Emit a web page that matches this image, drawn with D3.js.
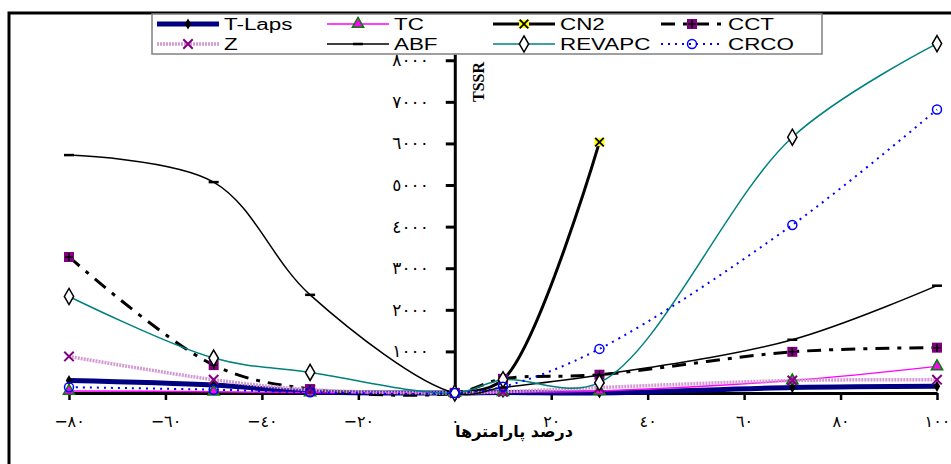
<!DOCTYPE html>
<meta charset="utf-8">
<style>
    body { margin: 0; background: #fff; }
    svg { display: block; }
    .tick text { font-family: "DejaVu Sans", sans-serif; font-size: 16px; fill: #000; }
    .legend text { font-family: "Liberation Sans", Arial, sans-serif; font-size: 16px; fill: #000; }
</style>
<svg width="951" height="464"></svg>
<script src="https://cdn.jsdelivr.net/npm/d3@7"></script>
<script>

    // x positions (percent change of parameters)
    var percents = [-80, -50, -30, 0, 10, 30, 70, 100];

    var tLaps  = [300, 190, 30, 0, 10, 0, 130, 160];
    var tc     = [50, 30, 10, 0, 20, 50, 300, 640];
    var cn2    = [null, null, null, 0, 320, 6030, null, null];
    var cct    = [3270, 670, 95, 0, 340, 440, 990, 1090];
    var zVals  = [880, 320, 80, 0, 30, 130, 300, 320];
    var abf    = [5720, 5070, 2360, 0, 130, 430, 1280, 2580];
    var revapc = [2320, 840, 495, 0, 320, 250, 6150, 8400];
    var crco   = [140, 80, 20, 0, 150, 1060, 4040, 6815];

    var xTicks = [-80, -60, -40, -20, 0, 20, 40, 60, 80, 100];
    var yTicks = [0, 1000, 2000, 3000, 4000, 5000, 6000, 7000, 8000];

    var xTitle = "درصد پارامترها";
    var yTitle = "TSSR";

    var series = [
        {name: "T-Laps", values: tLaps,  color: "#000080", width: 5,   dash: null,        marker: "tlaps"},
        {name: "TC",     values: tc,     color: "#ff00ff", width: 1.5, dash: null,        marker: "tri"},
        {name: "CN2",    values: cn2,    color: "#000000", width: 3,   dash: null,        marker: "cn2"},
        {name: "CCT",    values: cct,    color: "#000000", width: 3,   dash: "14,8,4,8",  marker: "cct"},
        {name: "Z",      values: zVals,  color: "#d49ad4", width: 3.5, dash: "2,1",       marker: "z"},
        {name: "ABF",    values: abf,    color: "#000000", width: 1.5, dash: null,        marker: "abf"},
        {name: "REVAPC", values: revapc, color: "#008080", width: 1.5, dash: null,        marker: "diamond"},
        {name: "CRCO",   values: crco,   color: "#0000ff", width: 2,   dash: "2,5",       marker: "circle"}
    ];

    var svg = d3.select("svg");

    var x = d3.scaleLinear().domain([-80, 100]).range([69, 937]);
    var y = d3.scaleLinear().domain([0, 8150]).range([393, 54]);

    var arabicDigits = "٠١٢٣٤٥٦٧٨٩";
    function toArabic(n) {
        var s = String(Math.abs(n)).replace(/[0-9]/g, function (c) { return arabicDigits[+c]; });
        return (n < 0 ? "−" : "") + s;
    }

    // outer frame (only top and left edges fall inside the picture)
    svg.append("rect")
        .attr("x", 9).attr("y", 13)
        .attr("width", 1000).attr("height", 500)
        .attr("fill", "none")
        .attr("stroke", "#000")
        .attr("stroke-width", 3);

    // axes
    var xAxis = svg.append("g")
        .attr("transform", "translate(0," + y(0) + ")")
        .call(d3.axisBottom(x).tickValues(xTicks).tickSizeInner(7).tickSizeOuter(0).tickFormat(toArabic));
    xAxis.select(".domain").attr("stroke-width", 3);
    xAxis.selectAll(".tick line").attr("stroke-width", 2.5);
    xAxis.selectAll(".tick text").attr("y", 23)
        .style("direction", "ltr").style("unicode-bidi", "bidi-override");

    var yAxis = svg.append("g")
        .attr("transform", "translate(" + x(0) + ",0)")
        .call(d3.axisLeft(y).tickValues(yTicks).tickSizeInner(9).tickSizeOuter(0).tickPadding(17).tickFormat(toArabic));
    yAxis.select(".domain").attr("stroke-width", 3);
    yAxis.selectAll(".tick line").attr("stroke-width", 3);
    yAxis.selectAll(".tick text").style("font-size", "17px")
        .style("direction", "ltr").style("unicode-bidi", "bidi-override");

    // titles
    svg.append("text")
        .attr("x", 514).attr("y", 437)
        .attr("text-anchor", "middle")
        .style("font-family", "DejaVu Sans, sans-serif")
        .style("font-weight", "bold")
        .style("font-size", "16px")
        .text(xTitle);

    svg.append("text")
        .attr("transform", "translate(484,82) rotate(-90)")
        .attr("text-anchor", "middle")
        .style("font-family", "Liberation Serif, serif")
        .style("font-weight", "bold")
        .style("font-size", "16px")
        .text(yTitle);

    // lines
    var line = d3.line()
        .x(function (d) { return x(d.p); })
        .y(function (d) { return y(d.v); })
        .curve(d3.curveCatmullRom.alpha(0.5));

    function points(s) {
        return percents.map(function (p, i) { return {p: p, v: s.values[i]}; })
            .filter(function (d) { return d.v != null; });
    }

    var lines = svg.append("g");
    series.forEach(function (s) {
        lines.append("path")
            .datum(points(s))
            .attr("d", line)
            .attr("fill", "none")
            .attr("stroke", s.color)
            .attr("stroke-width", s.width)
            .attr("stroke-dasharray", s.dash);
    });

    var symTimes = d3.symbolTimes || d3.symbolX;

    function drawMarker(g, type) {
        if (type == "tlaps") {
            g.append("path").attr("d", d3.symbol(d3.symbolDiamond, 36)).attr("fill", "#000");
        } else if (type == "tri") {
            g.append("path").attr("d", d3.symbol(d3.symbolTriangle, 55)).attr("fill", "#ff00ff")
                .attr("stroke", "#008000").attr("stroke-width", 1.5);
        } else if (type == "cn2") {
            g.append("rect").attr("x", -5).attr("y", -4).attr("width", 10).attr("height", 8).attr("fill", "#ffff00");
            g.append("path").attr("d", d3.symbol(symTimes, 50)).attr("stroke", "#000").attr("stroke-width", 1.8).attr("fill", "none");
        } else if (type == "cct") {
            g.append("rect").attr("x", -5).attr("y", -5).attr("width", 10).attr("height", 10).attr("fill", "#800080");
            g.append("path").attr("d", "M-4,0H4M0,-4V4").attr("stroke", "#000").attr("stroke-width", 1.5);
        } else if (type == "z") {
            g.append("path").attr("d", d3.symbol(symTimes, 60)).attr("stroke", "#800080").attr("stroke-width", 2).attr("fill", "none");
        } else if (type == "abf") {
            g.append("path").attr("d", "M-5,0H5").attr("stroke", "#000").attr("stroke-width", 2.5);
        } else if (type == "diamond") {
            g.append("path").attr("d", d3.symbol(d3.symbolDiamond, 75)).attr("fill", "#fff")
                .attr("stroke", "#000").attr("stroke-width", 1.5);
        } else if (type == "circle") {
            g.append("circle").attr("r", 4.5).attr("fill", "none")
                .attr("stroke", "#0000ff").attr("stroke-width", 1.5);
        }
    }

    var markers = svg.append("g");
    series.forEach(function (s) {
        points(s).forEach(function (d) {
            var g = markers.append("g").attr("transform", "translate(" + x(d.p) + "," + y(d.v) + ")");
            drawMarker(g, s.marker);
        });
    });

    // legend
    var legend = svg.append("g").attr("class", "legend");
    legend.append("rect")
        .attr("x", 152).attr("y", 14)
        .attr("width", 670).attr("height", 40)
        .attr("fill", "#fff")
        .attr("stroke", "#808080")
        .attr("stroke-width", 1.5);

    var colX = [157, 327, 493, 661];
    var rowY = [24, 44];
    series.forEach(function (s, i) {
        var cx = colX[i % 4], cy = rowY[Math.floor(i / 4)];
        var item = legend.append("g").attr("transform", "translate(" + cx + "," + cy + ")");
        item.append("line")
            .attr("x1", 0).attr("x2", 62)
            .attr("stroke", s.color)
            .attr("stroke-width", s.width)
            .attr("stroke-dasharray", s.dash);
        drawMarker(item.append("g").attr("transform", "translate(31,0)"), s.marker);
        item.append("text")
            .attr("transform", "translate(67,0) scale(1.4,1)")
            .attr("dy", "0.36em")
            .text(s.name);
    });

</script>
